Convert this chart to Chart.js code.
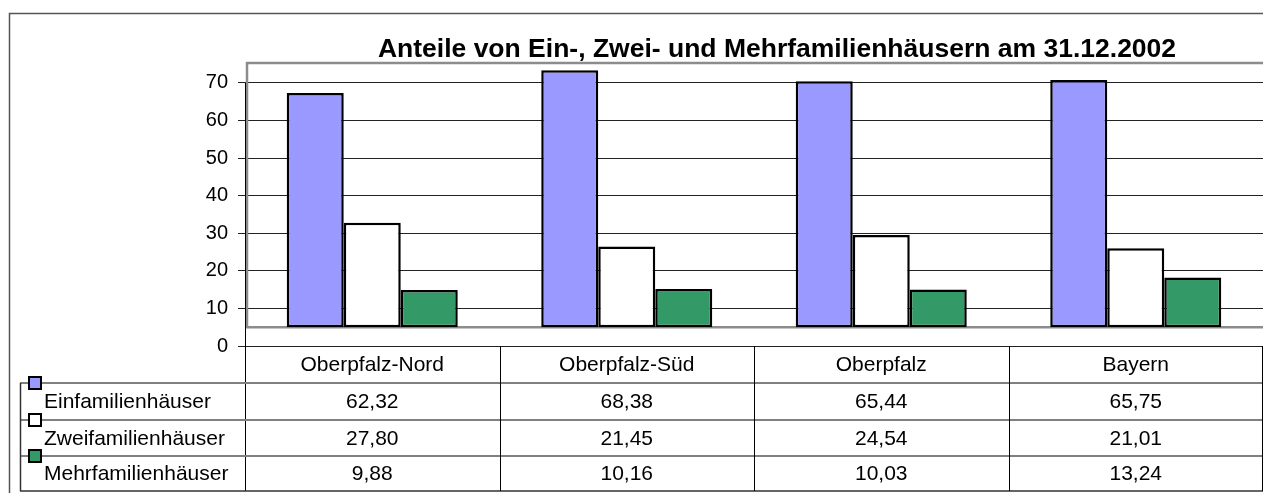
<!DOCTYPE html>
<html>
<head>
<meta charset="utf-8">
<script src="https://cdn.jsdelivr.net/npm/chart.js@4.4.1/dist/chart.umd.min.js"></script>
<style>
  body { margin: 0; background: #fff; }
  #wrap { width: 1263px; height: 493px; }
</style>
</head>
<body>
<div id="wrap"><canvas id="chart" width="1263" height="493"></canvas></div>
<script>
const CHART_TITLE = "Anteile von Ein-, Zwei- und Mehrfamilienhäusern am 31.12.2002";
const categories = ["Oberpfalz-Nord", "Oberpfalz-Süd", "Oberpfalz", "Bayern"];
const seriesNames = ["Einfamilienhäuser", "Zweifamilienhäuser", "Mehrfamilienhäuser"];
const einfamilien = [62.32, 68.38, 65.44, 65.75];
const zweifamilien = [27.80, 21.45, 24.54, 21.01];
const mehrfamilien = [9.88, 10.16, 10.03, 13.24];
const yTicks = [0, 10, 20, 30, 40, 50, 60, 70];
const seriesColors = ["#9999ff", "#ffffff", "#339966"];

// the old 3D chart stands its bars on a floor at 5, the axis still starts at 0
const FLOOR = 5;
const Y_MAX = 75.3;

const FONT = "'Liberation Sans', Arial, sans-serif";
Chart.defaults.font.family = FONT;
Chart.defaults.color = "#000";

const allSeries = [einfamilien, zweifamilien, mehrfamilien];

function fmt(v) {
  return v.toFixed(2).replace(".", ",");
}

// frame, back wall, title and the data table under the plot
const decorPlugin = {
  id: "decor",
  beforeDatasetsDraw(chart) {
    const { ctx, chartArea, scales } = chart;
    const y = scales.y;
    ctx.save();
    ctx.strokeStyle = "#8c8c8c";
    ctx.lineWidth = 2.5;
    ctx.beginPath();
    ctx.moveTo(chartArea.right + 2, y.getPixelForValue(Y_MAX));
    ctx.lineTo(chartArea.left + 2, y.getPixelForValue(Y_MAX));
    ctx.lineTo(chartArea.left + 2, y.getPixelForValue(FLOOR));
    ctx.lineTo(chartArea.right + 2, y.getPixelForValue(FLOOR));
    ctx.stroke();
    ctx.restore();
  },
  afterDraw(chart) {
    const { ctx, chartArea, scales } = chart;
    const x = scales.x;
    const y = scales.y;
    const band = (chartArea.right - chartArea.left) / categories.length;
    const top = chartArea.bottom;
    const rows = [383, 420, 456, 491];
    const tableLeft = 20;

    ctx.save();

    // outer chart frame
    ctx.strokeStyle = "#555";
    ctx.lineWidth = 1.5;
    ctx.beginPath();
    ctx.moveTo(9.5, 493);
    ctx.lineTo(9.5, 13.5);
    ctx.lineTo(1263, 13.5);
    ctx.stroke();

    // title
    ctx.fillStyle = "#000";
    ctx.font = "bold 26.5px " + FONT;
    ctx.textAlign = "center";
    ctx.textBaseline = "alphabetic";
    ctx.fillText(CHART_TITLE, 777, 57);

    // y axis line, runs down through the table
    ctx.strokeStyle = "#000";
    ctx.lineWidth = 1;
    ctx.beginPath();
    ctx.moveTo(chartArea.left + 0.5, y.getPixelForValue(70));
    ctx.lineTo(chartArea.left + 0.5, rows[3]);
    ctx.stroke();

    // table row lines
    ctx.strokeStyle = "#808080";
    ctx.lineWidth = 2;
    for (let i = 0; i < 3; i++) {
      ctx.beginPath();
      ctx.moveTo(tableLeft, rows[i]);
      ctx.lineTo(chartArea.right, rows[i]);
      ctx.stroke();
    }
    ctx.strokeStyle = "#333";
    ctx.lineWidth = 1.5;
    ctx.beginPath();
    ctx.moveTo(tableLeft, rows[3]);
    ctx.lineTo(chartArea.right, rows[3]);
    ctx.moveTo(tableLeft + 0.5, rows[0]);
    ctx.lineTo(tableLeft + 0.5, rows[3]);
    ctx.stroke();

    // column lines
    ctx.strokeStyle = "#000";
    ctx.lineWidth = 1;
    for (let i = 1; i <= categories.length; i++) {
      const cx = Math.min(Math.round(chartArea.left + band * i) + 0.5, chartArea.right - 0.5);
      ctx.beginPath();
      ctx.moveTo(cx, top);
      ctx.lineTo(cx, rows[3]);
      ctx.stroke();
    }

    // category header + values
    ctx.font = "21px " + FONT;
    ctx.textBaseline = "middle";
    ctx.textAlign = "center";
    ctx.fillStyle = "#000";
    categories.forEach((c, i) => {
      const cx = x.getPixelForValue(i);
      ctx.fillText(c, cx, (top + rows[0]) / 2 + 1);
      allSeries.forEach((s, j) => {
        ctx.fillText(fmt(s[i]), cx, (rows[j] + rows[j + 1]) / 2 + 1);
      });
    });

    // series names with legend keys
    ctx.textAlign = "left";
    seriesNames.forEach((name, j) => {
      ctx.fillStyle = "#000";
      ctx.fillText(name, 44, (rows[j] + rows[j + 1]) / 2 + 1);
      ctx.fillStyle = seriesColors[j];
      ctx.fillRect(29, rows[j] - 6, 12, 12);
      ctx.strokeStyle = "#000";
      ctx.lineWidth = 2;
      ctx.strokeRect(29, rows[j] - 6, 12, 12);
    });

    ctx.restore();
  }
};

const ctx = document.getElementById("chart").getContext("2d");
new Chart(ctx, {
  type: "bar",
  data: {
    labels: categories,
    datasets: seriesNames.map((name, j) => ({
      label: name,
      data: allSeries[j].map((v) => [FLOOR, v + FLOOR]),
      backgroundColor: seriesColors[j],
      borderColor: "#000",
      borderWidth: 2.5,
      borderSkipped: false,
      categoryPercentage: 0.672,
      barPercentage: 1.0,
    })),
  },
  options: {
    responsive: false,
    animation: false,
    layout: { padding: { top: 63, right: 0, bottom: 147, left: 0 } },
    plugins: {
      legend: { display: false },
      title: { display: false },
      tooltip: { enabled: false },
    },
    scales: {
      x: { display: false },
      y: {
        min: 0,
        max: Y_MAX,
        afterFit: (s) => { s.width = 245; },
        afterBuildTicks: (s) => { s.ticks = yTicks.map((v) => ({ value: v })); },
        border: { display: false },
        grid: { color: "#222", lineWidth: 1, tickLength: 7 },
        ticks: { font: { size: 20 }, padding: 10, color: "#000" },
      },
    },
  },
  plugins: [decorPlugin],
});
</script>
</body>
</html>
